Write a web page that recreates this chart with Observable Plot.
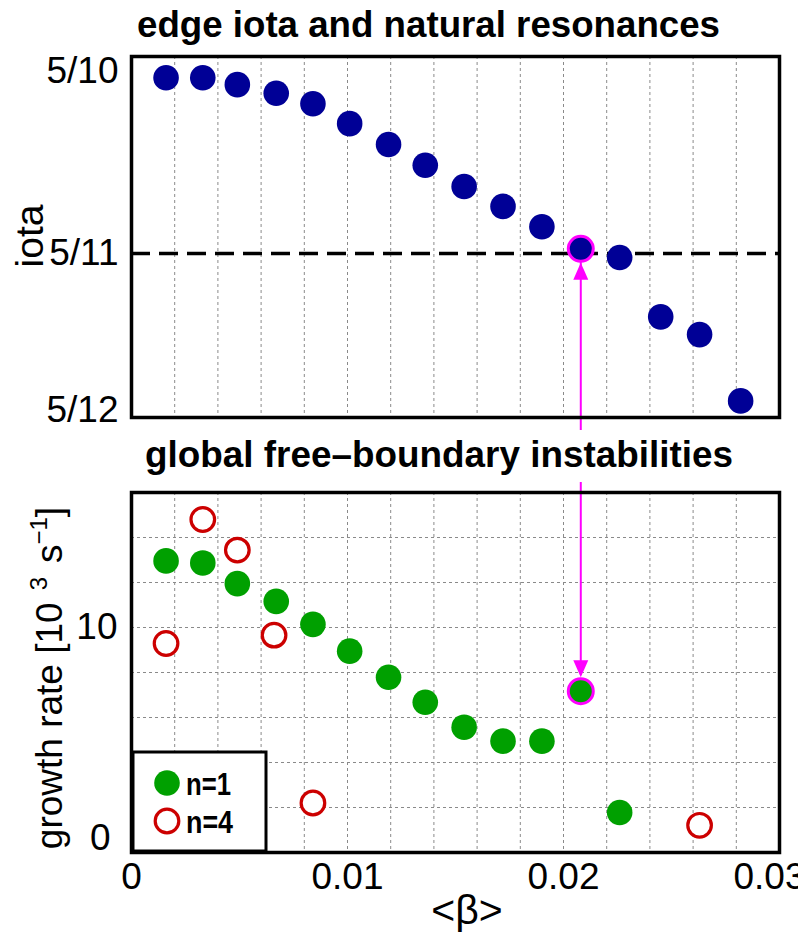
<!DOCTYPE html>
<html><head><meta charset="utf-8">
<script src="https://cdn.jsdelivr.net/npm/d3@7"></script>
<script src="https://cdn.jsdelivr.net/npm/@observablehq/plot@0.6"></script>
<style>
html,body{margin:0;padding:0;background:#fff;}
#wrap{position:relative;width:798px;height:934px;overflow:hidden;background:#fff;font-family:"Liberation Sans",Arial,sans-serif;}
.p{position:absolute;left:0;}
#overlay{position:absolute;left:0;top:0;pointer-events:none;}
</style></head>
<body>
<div id="wrap">
  <div id="p1" class="p" style="top:0px"></div>
  <div id="p2" class="p" style="top:430px"></div>
</div>
<script>
// ---------- data ----------
const betaIota = [0.0016, 0.0033, 0.0049, 0.0067, 0.0084, 0.0101, 0.0119, 0.0136, 0.0154, 0.0172, 0.0190, 0.0208, 0.0226, 0.0245, 0.0263, 0.0282];
const iotaEdge = [0.4951, 0.4951, 0.4935, 0.4915, 0.4891, 0.4845, 0.4797, 0.4749, 0.4700, 0.4654, 0.4607, 0.4556, 0.4536, 0.4399, 0.4358, 0.4205];
const betaN1 = [0.0016, 0.0033, 0.0049, 0.0067, 0.0084, 0.0101, 0.0119, 0.0136, 0.0154, 0.0172, 0.0190, 0.0208, 0.0226];
const growthN1 = [12.96, 12.87, 11.95, 11.16, 10.14, 8.95, 7.79, 6.68, 5.57, 4.95, 4.95, 7.17, 1.78];
const betaN4 = [0.0016, 0.0033, 0.0049, 0.0066, 0.0084, 0.0263];
const growthN4 = [9.29, 14.8, 13.44, 9.66, 2.2, 1.21];
const resonantIotaIndex = 11;   // point at <beta> ~ 0.0208 on 5/11
const resonantGrowthIndex = 11;
const iotaDomain = [5/12, 5/10];
const growthDomain = [0, 16];
const iotaTickValues = [5/10, 5/11, 5/12];
const iotaTickLabels = ["5/10", "5/11", "5/12"];
const growthTickValues = [0, 10];
const growthTickLabels = ["0", "10"];
const betaTickValues = [0, 0.01, 0.02, 0.03];
const betaTickLabels = ["0", "0.01", "0.02", "0.03"];
const betaGrid = d3.range(1, 15).map(i => i * 0.002);
const growthGrid = [2, 4, 6, 8, 10, 12, 14];
const titles = ["edge iota and natural resonances", "global free\u2013boundary instabilities"];
const legendLabels = ["n=1", "n=4"];

// ---------- styles ----------
const NAVY = "#000096", GREEN = "#00A000", RED = "#CC0000", MAG = "#FF00FF";
const FONT = "'Liberation Sans', Arial, sans-serif";
const iotaData = betaIota.map((b, i) => ({beta: b, iota: iotaEdge[i]}));
const n1Data = betaN1.map((b, i) => ({beta: b, g: growthN1[i]}));
const n4Data = betaN4.map((b, i) => ({beta: b, g: growthN4[i]}));
const resIota = [iotaData[resonantIotaIndex]];
const resGrowth = [Object.assign({top: growthDomain[1]}, n1Data[resonantGrowthIndex])];
const lab = (vals, labs) => d => labs[vals.findIndex(v => Math.abs(v - d) < 1e-9)];

const arrowUp = {draw(ctx){ ctx.moveTo(0,0); ctx.lineTo(7.5,17); ctx.lineTo(-7.5,17); ctx.closePath(); }};
const arrowDown = {draw(ctx){ ctx.moveTo(0,0); ctx.lineTo(7.5,-17); ctx.lineTo(-7.5,-17); ctx.closePath(); }};

const yAx = (vals, extra) => Plot.axisY(vals, Object.assign({tickSize: 0, tickPadding: 13, fontSize: 37, label: null, tickFormat: lab(iotaTickValues, iotaTickLabels)}, extra));

// ---------- top panel ----------
const p1 = Plot.plot({
  width: 798, height: 430,
  marginLeft: 131, marginRight: 19, marginTop: 56, marginBottom: 13,
  style: {fontFamily: FONT, background: "transparent"},
  x: {domain: [0, 0.03], axis: null},
  y: {domain: iotaDomain, axis: null},
  marks: [
    Plot.gridX(betaGrid, {stroke: "#8a8a8a", strokeOpacity: 1, strokeWidth: 1, strokeDasharray: "3,3"}),
    Plot.ruleY([5/11], {stroke: "black", strokeWidth: 3.5, strokeDasharray: "19,9"}),
    yAx([5/11], {}),
    yAx([5/10], {dy: 15}),
    yAx([5/12], {dy: -7}),
    Plot.ruleX(resIota, {x: "beta", y1: "iota", stroke: MAG, strokeWidth: 2, insetTop: 16, insetBottom: -11}),
    Plot.dot(iotaData, {x: "beta", y: "iota", r: 12.8, fill: NAVY}),
    Plot.dot(resIota, {x: "beta", y: "iota", r: 12.5, fill: NAVY, stroke: MAG, strokeWidth: 3}),
    Plot.dot(resIota, {x: "beta", y: "iota", r: 5, symbol: arrowUp, fill: MAG, stroke: "none", dy: 14}),
    Plot.frame({stroke: "black", strokeWidth: 3.5})
  ]
});
document.getElementById("p1").appendChild(p1);

// ---------- bottom panel ----------
const gAx = (vals, extra) => Plot.axisY(vals, Object.assign({tickSize: 0, tickPadding: 14, fontSize: 37, label: null, tickFormat: lab(growthTickValues, growthTickLabels)}, extra));
const xAx = (vals, extra) => Plot.axisX(vals, Object.assign({tickSize: 0, tickPadding: 10, fontSize: 37, label: null, tickFormat: lab(betaTickValues, betaTickLabels)}, extra));
const p2 = Plot.plot({
  width: 798, height: 504,
  marginLeft: 131, marginRight: 19, marginTop: 62, marginBottom: 82,
  style: {fontFamily: FONT, background: "transparent"},
  x: {domain: [0, 0.03], axis: null},
  y: {domain: growthDomain, axis: null},
  marks: [
    Plot.gridX(betaGrid, {stroke: "#8a8a8a", strokeOpacity: 1, strokeWidth: 1, strokeDasharray: "3,3"}),
    Plot.gridY(growthGrid, {stroke: "#8a8a8a", strokeOpacity: 1, strokeWidth: 1, strokeDasharray: "3,3"}),
    xAx(betaTickValues.slice(0, 3), {}),
    xAx(betaTickValues.slice(3), {dx: -10}),
    gAx([10], {}),
    gAx([0], {dy: -14, dx: -7}),
    Plot.ruleX(resGrowth, {x: "beta", y1: "top", y2: "g", stroke: MAG, strokeWidth: 2, insetTop: -10, insetBottom: 16}),
    Plot.dot(n1Data, {x: "beta", y: "g", r: 12.8, fill: GREEN}),
    Plot.dot(n4Data, {x: "beta", y: "g", r: 11.8, fill: "white", stroke: RED, strokeWidth: 3.2}),
    Plot.dot(resGrowth, {x: "beta", y: "g", r: 12.5, fill: GREEN, stroke: MAG, strokeWidth: 3}),
    Plot.dot(resGrowth, {x: "beta", y: "g", r: 5, symbol: arrowDown, fill: MAG, stroke: "none", dy: -14}),
    Plot.frame({stroke: "black", strokeWidth: 3.5})
  ]
});
document.getElementById("p2").appendChild(p2);

// ---------- titles, axis labels, legend ----------
const ov = d3.select("#wrap").append("svg").attr("id", "overlay")
  .attr("width", 798).attr("height", 934)
  .style("font-family", FONT);

ov.append("text").attr("x", 428.5).attr("y", 37).attr("text-anchor", "middle")
  .attr("font-weight", "bold").attr("font-size", 37)
  .attr("textLength", 583).attr("lengthAdjust", "spacingAndGlyphs").text(titles[0]);
ov.append("text").attr("x", 439).attr("y", 467).attr("text-anchor", "middle")
  .attr("font-weight", "bold").attr("font-size", 37)
  .attr("textLength", 588).attr("lengthAdjust", "spacingAndGlyphs").text(titles[1]);

ov.append("text").attr("transform", "translate(43,236) rotate(-90)").attr("text-anchor", "middle")
  .attr("font-size", 39).text("iota");

const gl = ov.append("text").attr("transform", "translate(62,678) rotate(-90)").attr("text-anchor", "middle")
  .attr("font-size", 37);
gl.append("tspan").text("growth rate [10");
gl.append("tspan").attr("dx", 12).attr("dy", -15).attr("font-size", 24).text("3");
gl.append("tspan").attr("dx", 14).attr("dy", 15).text("s");
gl.append("tspan").attr("dy", -15).attr("font-size", 24).text("\u22121");
gl.append("tspan").attr("dy", 15).text("]");

ov.append("text").attr("x", 467).attr("y", 924).attr("text-anchor", "middle")
  .attr("font-size", 41).text("<\u03B2>");

// legend box
ov.append("rect").attr("x", 133).attr("y", 752).attr("width", 133).attr("height", 99)
  .attr("fill", "white").attr("stroke", "black").attr("stroke-width", 3);
ov.append("circle").attr("cx", 167).attr("cy", 783).attr("r", 12.8).attr("fill", GREEN);
ov.append("circle").attr("cx", 167).attr("cy", 821).attr("r", 11.8).attr("fill", "white")
  .attr("stroke", RED).attr("stroke-width", 3.2);
ov.append("text").attr("x", 186).attr("y", 795).attr("font-weight", "bold").attr("font-size", 31)
  .attr("textLength", 45).attr("lengthAdjust", "spacingAndGlyphs").text(legendLabels[0]);
ov.append("text").attr("x", 186).attr("y", 833).attr("font-weight", "bold").attr("font-size", 31)
  .attr("textLength", 47).attr("lengthAdjust", "spacingAndGlyphs").text(legendLabels[1]);
</script>
</body></html>
